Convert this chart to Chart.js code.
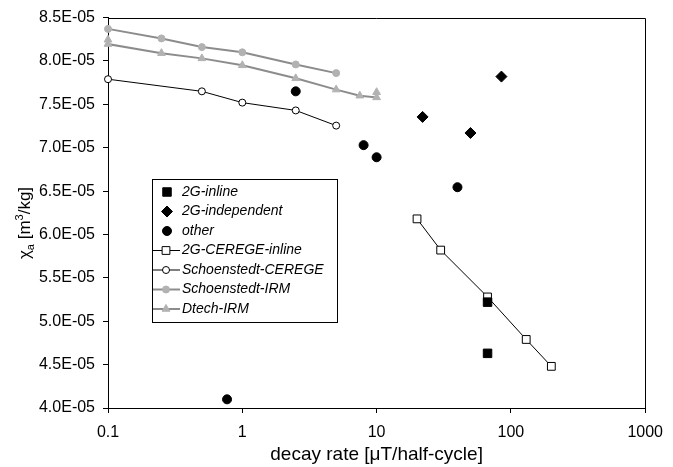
<!DOCTYPE html>
<html>
<head>
<meta charset="utf-8">
<script src="https://cdn.jsdelivr.net/npm/chart.js"></script>
<style>
  html, body { margin: 0; padding: 0; background: #fff; }
  #wrap { width: 673px; height: 467px; position: relative; }
</style>
</head>
<body>
<div id="wrap"><canvas id="chart"></canvas></div>
<script>
// decay rate [uT/half-cycle] and chi_a [m3/kg]
const inlineX = [67, 67];
const inlineY = [5.22e-5, 4.63e-5];

const indepX = [22, 50, 85];
const indepY = [7.355e-5, 7.17e-5, 7.82e-5];

const otherX = [0.77, 2.5, 8, 10, 40];
const otherY = [4.1e-5, 7.65e-5, 7.03e-5, 6.89e-5, 6.545e-5];

const cerInlineX = [20, 30, 67, 130, 200];
const cerInlineY = [6.18e-5, 5.82e-5, 5.28e-5, 4.79e-5, 4.48e-5];

const schCeregeX = [0.1, 0.5, 1, 2.5, 5];
const schCeregeY = [7.79e-5, 7.65e-5, 7.52e-5, 7.43e-5, 7.255e-5];

const schIrmX = [0.1, 0.25, 0.5, 1, 2.5, 5];
const schIrmY = [8.37e-5, 8.26e-5, 8.16e-5, 8.1e-5, 7.96e-5, 7.86e-5];

const dtechX = [0.1, 0.1, 0.25, 0.5, 1, 2.5, 5, 7.5, 10, 10];
const dtechY = [8.245e-5, 8.195e-5, 8.09e-5, 8.03e-5, 7.95e-5, 7.8e-5, 7.67e-5, 7.6e-5, 7.58e-5, 7.64e-5];

const xTicks = [0.1, 1, 10, 100, 1000];

const FONT = "'Liberation Sans', Arial, sans-serif";
const GRAY_LINE = "#8c8c8c";
const GRAY_MARK = "#b2b2b2";

const pts = (xs, ys) => xs.map((x, i) => ({ x: x, y: ys[i] }));

const fmtExp = (v) => {
    const [m, e] = Number(v).toExponential(1).split("e");
    const n = parseInt(e, 10);
    return m + "E" + (n < 0 ? "-" : "+") + String(Math.abs(n)).padStart(2, "0");
};

// plot frame + y title (with sub/superscript) + boxed legend inside the plot
const extras = {
    id: "extras",
    beforeDatasetsDraw(chart) {
        const ctx = chart.ctx;
        const a = chart.chartArea;
        ctx.save();
        ctx.strokeStyle = "#000";
        ctx.lineWidth = 1;
        ctx.beginPath();
        ctx.moveTo(Math.round(a.left), Math.round(a.top) + 0.5);
        ctx.lineTo(Math.round(a.right) + 0.5, Math.round(a.top) + 0.5);
        ctx.lineTo(Math.round(a.right) + 0.5, Math.round(a.bottom));
        ctx.stroke();
        ctx.restore();
    },
    afterDraw(chart) {
        const ctx = chart.ctx;
        ctx.save();

        // y axis title
        ctx.translate(24, 223);
        ctx.rotate(-Math.PI / 2);
        const big = "17px " + FONT;
        const small = "11px " + FONT;
        const parts = [
            { t: "\u03c7", f: big, dy: 0 },
            { t: "a", f: small, dy: 4 },
            { t: " [m", f: big, dy: 0 },
            { t: "3", f: small, dy: -7 },
            { t: "/kg]", f: big, dy: 0 },
        ];
        let total = 0;
        parts.forEach((p) => {
            ctx.font = p.f;
            p.w = ctx.measureText(p.t).width;
            total += p.w;
        });
        let px = -total / 2;
        ctx.fillStyle = "#000";
        ctx.textBaseline = "alphabetic";
        ctx.textAlign = "left";
        parts.forEach((p) => {
            ctx.font = p.f;
            ctx.fillText(p.t, px, 6 + p.dy);
            px += p.w;
        });
        ctx.setTransform(1, 0, 0, 1, 0, 0);

        // legend
        const bx = 152, by = 179, bw = 185, bh = 143;
        ctx.fillStyle = "#fff";
        ctx.fillRect(bx, by, bw, bh);
        ctx.strokeStyle = "#000";
        ctx.lineWidth = 1;
        ctx.strokeRect(bx + 0.5, by + 0.5, bw, bh);

        chart.data.datasets.forEach((ds, i) => {
            const cy = by + 13 + i * 19.5;
            if (ds.showLine) {
                ctx.strokeStyle = ds.borderColor;
                ctx.lineWidth = ds.borderWidth;
                ctx.beginPath();
                ctx.moveTo(bx + 1, cy);
                ctx.lineTo(bx + 28, cy);
                ctx.stroke();
            }
            ctx.fillStyle = ds.pointBackgroundColor;
            ctx.strokeStyle = ds.pointBorderColor;
            ctx.lineWidth = ds.pointBorderWidth;
            Chart.helpers.drawPoint(ctx, {
                pointStyle: ds.pointStyle,
                radius: ds.pointRadius,
                rotation: 0,
                borderWidth: ds.pointBorderWidth,
            }, ds.showLine ? bx + 14 : bx + 15, cy);
            ctx.fillStyle = "#000";
            ctx.font = "italic 14px " + FONT;
            ctx.textBaseline = "middle";
            ctx.textAlign = "left";
            ctx.fillText(ds.label, bx + 30, cy);
        });
        ctx.restore();
    },
};

const series = (label, data, style, radius, fill, border, line) => ({
    label: label,
    data: data,
    showLine: !!line,
    borderColor: line ? line.color : border,
    borderWidth: line ? line.width : 0,
    pointStyle: style,
    pointRadius: radius,
    pointHoverRadius: radius,
    pointBackgroundColor: fill,
    pointBorderColor: border,
    pointBorderWidth: 1,
    tension: 0,
    clip: false,
});

const config = {
    type: "scatter",
    data: {
        datasets: [
            series("2G-inline", pts(inlineX, inlineY), "rect", 6, "#000", "#000"),
            series("2G-independent", pts(indepX, indepY), "rectRot", 5.5, "#000", "#000"),
            series("other", pts(otherX, otherY), "circle", 4.5, "#000", "#000"),
            series("2G-CEREGE-inline", pts(cerInlineX, cerInlineY), "rect", 5.5, "#fff", "#000", { color: "#000", width: 1 }),
            series("Schoenstedt-CEREGE", pts(schCeregeX, schCeregeY), "circle", 3.5, "#fff", "#000", { color: "#000", width: 1 }),
            series("Schoenstedt-IRM", pts(schIrmX, schIrmY), "circle", 3.5, GRAY_MARK, GRAY_MARK, { color: GRAY_LINE, width: 2 }),
            series("Dtech-IRM", pts(dtechX, dtechY), "triangle", 4.5, GRAY_MARK, GRAY_MARK, { color: GRAY_LINE, width: 2 }),
        ],
    },
    options: {
        responsive: true,
        maintainAspectRatio: false,
        animation: false,
        events: [],
        layout: { padding: { top: 15, right: 19, bottom: 0, left: 0 } },
        plugins: {
            legend: { display: false },
            tooltip: { enabled: false },
        },
        scales: {
            x: {
                type: "logarithmic",
                min: 0.1,
                max: 1000,
                afterBuildTicks: (scale) => {
                    scale.ticks = xTicks.map((v) => ({ value: v }));
                },
                afterFit: (scale) => {
                    scale.height = 59;
                },
                grid: {
                    display: true,
                    drawOnChartArea: false,
                    drawTicks: true,
                    tickLength: 5,
                    color: "#000",
                },
                border: { display: true, color: "#000", width: 1 },
                ticks: {
                    color: "#000",
                    padding: 10,
                    maxRotation: 0,
                    autoSkip: false,
                    font: { family: FONT, size: 16 },
                    callback: (v) => String(v),
                },
                title: {
                    display: true,
                    text: "decay rate [\u03bcT/half-cycle]",
                    color: "#000",
                    font: { family: FONT, size: 19 },
                    padding: { top: 0, bottom: 1 },
                },
            },
            y: {
                type: "linear",
                min: 4.0e-5,
                max: 8.5e-5,
                afterFit: (scale) => {
                    scale.width = 108;
                },
                grid: {
                    display: true,
                    drawOnChartArea: false,
                    drawTicks: true,
                    tickLength: 5,
                    color: "#000",
                },
                border: { display: true, color: "#000", width: 1 },
                ticks: {
                    stepSize: 0.5e-5,
                    color: "#000",
                    padding: 8,
                    font: { family: FONT, size: 16 },
                    callback: (v) => fmtExp(v),
                },
            },
        },
    },
    plugins: [extras],
};

new Chart(document.getElementById("chart"), config);
</script>
</body>
</html>
